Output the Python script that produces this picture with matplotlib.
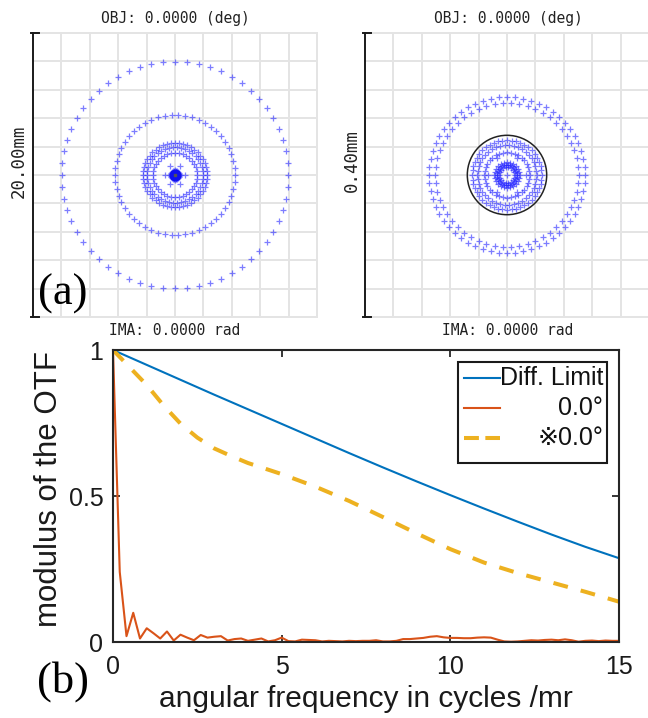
import numpy as np
import matplotlib
matplotlib.use("Agg")
import matplotlib.pyplot as plt
from matplotlib.patches import Circle, Rectangle
from matplotlib.lines import Line2D

# ---------------- data ----------------
# spot diagram (a): rings of ray intercepts (radius in mm, number of rays)
left_ring_radius = [7.99, 4.23, 2.25, 1.97, 1.55, 0.72, 0.32, 0.21, 0.11, 0.0]
left_ring_count = [60, 54, 48, 42, 36, 6, 24, 18, 12, 1]
left_scale_label = "20.00mm"
left_half_width = 10.0          # mm

right_ring_radius = [0.110, 0.101, 0.049, 0.042, 0.032, 0.027, 0.018, 0.0145, 0.011, 0.0]
right_ring_count = [60, 54, 48, 42, 36, 6, 24, 30, 18, 1]
right_scale_label = "0.40mm"
right_half_width = 0.20         # mm
airy_radius = 0.0559            # mm

obj_label = "OBJ: 0.0000 (deg)"
ima_label = "IMA: 0.0000 rad"

# MTF (b)
freq_diff = [0, 1, 2, 3, 4, 5, 6, 7, 8, 9, 10, 11, 12, 13, 14, 15]
mtf_diff = [1.0, 0.949, 0.898, 0.847, 0.797, 0.747, 0.697, 0.647, 0.598,
            0.550, 0.503, 0.457, 0.412, 0.368, 0.326, 0.287]

freq_red = np.linspace(0, 15, 76)
mtf_red = [1.00, 0.24, 0.02, 0.10, 0.012, 0.047, 0.030, 0.012, 0.036, 0.005,
           0.025, 0.015, 0.006, 0.024, 0.015, 0.018, 0.020, 0.005, 0.010, 0.012,
           0.004, 0.008, 0.012, 0.002, 0.006, 0.015, 0.003, 0.002, 0.008, 0.007,
           0.006, 0.002, 0.004, 0.003, 0.002, 0.004, 0.003, 0.004, 0.004, 0.006,
           0.002, 0.002, 0.004, 0.010, 0.010, 0.012, 0.014, 0.018, 0.020, 0.016,
           0.014, 0.014, 0.013, 0.013, 0.015, 0.016, 0.015, 0.008, 0.002, 0.001,
           0.002, 0.004, 0.006, 0.005, 0.007, 0.008, 0.006, 0.009, 0.006, 0.001,
           0.004, 0.005, 0.003, 0.005, 0.004, 0.004]

freq_yel = [0, 0.5, 1.0, 1.5, 2.0, 2.5, 3.0, 3.5, 4.0, 5, 6, 7, 8, 9, 10, 11, 12, 13, 14, 15]
mtf_yel = [1.0, 0.94, 0.88, 0.81, 0.748, 0.700, 0.663, 0.637, 0.613, 0.575, 0.532,
           0.483, 0.428, 0.372, 0.318, 0.272, 0.236, 0.204, 0.172, 0.138]

legend_labels = ["Diff. Limit", "0.0°", "※0.0°"]
x_ticks = [0, 5, 10, 15]
y_ticks = [0, 0.5, 1]
y_tick_labels = ["0", "0.5", "1"]

# ---------------- figure ----------------
W, H = 648, 718
fig = plt.figure(figsize=(W / 100, H / 100), dpi=100)


def fig_rect(x0, y0, x1, y1):
    return [x0 / W, 1 - y1 / H, (x1 - x0) / W, (y1 - y0) / H]


def spot_panel(rect, radii, counts, half, scale_label, label_x, airy=None):
    ax = fig.add_axes(rect)
    ax.set_xlim(-half, half)
    ax.set_ylim(-half, half)
    ax.set_axis_off()
    step = half / 5
    grid_c = "#e4e4e4"
    for k in range(11):
        v = -half + k * step
        if k > 0:
            ax.plot([v, v], [-half, half], color=grid_c, lw=1.4, zorder=1, clip_on=False)
        ax.plot([-half, half], [v, v], color=grid_c, lw=1.4, zorder=1, clip_on=False)
    # scale bar
    px = 2 * half / 284
    ax.plot([-half, -half], [-half, half], color="#1a1a1a", lw=1.4, zorder=3, clip_on=False)
    for yy in (-half, half):
        ax.plot([-half - 1.5 * px, -half + 6 * px], [yy, yy], color="#1a1a1a", lw=1.4,
                zorder=3, clip_on=False)
    fig.text(label_x / W, 1 - 161 / H, scale_label, rotation=90, ha="center", va="center",
             family="DejaVu Sans Mono", fontsize=12.5, color="#222222")
    # rays
    for r, n in zip(radii, counts):
        ang = np.arange(n) * 2 * np.pi / n
        ax.plot(r * np.cos(ang), r * np.sin(ang), linestyle="none", marker="+",
                markersize=3.7, markeredgewidth=0.9, color=(0.15, 0.15, 1.0), alpha=0.6,
                zorder=4, clip_on=False)
    if airy is not None:
        ax.add_patch(Circle((0, 0), airy, fill=False, edgecolor="#222222", lw=1.1, zorder=5))
    return ax


axL = spot_panel(fig_rect(33, 33, 317, 317), left_ring_radius, left_ring_count,
                 left_half_width, left_scale_label, 19)
axL.plot([0], [0], marker="o", markersize=7.5, color="#1010ee", zorder=5)
axL.plot([0], [0], marker="s", markersize=1.5, color="#555555", zorder=6)
axR = spot_panel(fig_rect(365, 33, 649, 317), right_ring_radius, right_ring_count,
                 right_half_width, right_scale_label, 352, airy=airy_radius)

mono = dict(family="DejaVu Sans Mono", fontsize=10.5, color="#222222", ha="center", va="center")
fig.text(175 / W, 1 - 19 / H, obj_label, **mono)
fig.text(175 / W, 1 - 331 / H, ima_label, **mono)
fig.text(508 / W, 1 - 19 / H, obj_label, **mono)
fig.text(508 / W, 1 - 331 / H, ima_label, **mono)

fig.text(63 / W, 1 - 294 / H, "(a)", family="Liberation Serif", fontsize=32,
         ha="center", va="center", color="black")
fig.text(63 / W, 1 - 682 / H, "(b)", family="Liberation Serif", fontsize=32,
         ha="center", va="center", color="black")

# ---------------- MTF panel ----------------
sans = ["Liberation Sans", "DejaVu Sans"]
ax = fig.add_axes(fig_rect(113, 350, 619, 642))
c_blue, c_red, c_yel = "#0072BD", "#D95319", "#EDB120"
l1, = ax.plot(freq_diff, mtf_diff, color=c_blue, lw=1.5)
l2, = ax.plot(freq_red, mtf_red, color=c_red, lw=1.5)
l3, = ax.plot(freq_yel, mtf_yel, color=c_yel, lw=2.9, linestyle=(0, (3.7, 3.3)),
              dash_capstyle="butt")
ax.set_xlim(0, 15)
ax.set_ylim(0, 1)
ax.set_xticks(x_ticks)
ax.set_yticks(y_ticks)
ax.set_yticklabels(y_tick_labels)
for s in ax.spines.values():
    s.set_linewidth(1.5)
    s.set_color("#262626")
ax.tick_params(direction="in", length=5, width=1.3, top=True, right=True,
               labelsize=18, colors="#262626")
ax.tick_params(axis="x", pad=9)
ax.tick_params(axis="y", pad=7)
for t in ax.get_xticklabels() + ax.get_yticklabels():
    t.set_family(sans)
    t.set_color("#1a1a1a")

ax.text(0.5, -0.196, "angular frequency in cycles /mr", transform=ax.transAxes,
        ha="center", va="center", fontsize=21.5, family=sans, color="#1a1a1a")
ax.text(-0.126, 0.525, "modulus of the OTF", transform=ax.transAxes, rotation=90,
        ha="center", va="center", fontsize=22.5, family=sans, color="#1a1a1a")

# legend (MATLAB style, text right-aligned)
def ax_x(px):
    return (px - 113) / 506


def ax_y(py):
    return (642 - py) / 292


ax.add_patch(Rectangle((ax_x(458), ax_y(463)), ax_x(607) - ax_x(458), ax_y(362) - ax_y(463),
                       transform=ax.transAxes, facecolor="white", edgecolor="#1a1a1a",
                       lw=1.5, zorder=10))
for line, lab, py in zip([l1, l2, l3], legend_labels, [378, 408, 438]):
    ax.add_line(Line2D([ax_x(464), ax_x(500)], [ax_y(py), ax_y(py)], transform=ax.transAxes,
                       color=line.get_color(), lw=line.get_linewidth(),
                       linestyle=line.get_linestyle(), zorder=11))
    ax.text(ax_x(603), ax_y(py), lab, transform=ax.transAxes, ha="right", va="center",
            fontsize=18, family=sans, color="#111111", zorder=11)

fig.savefig("out.png", dpi=100)
